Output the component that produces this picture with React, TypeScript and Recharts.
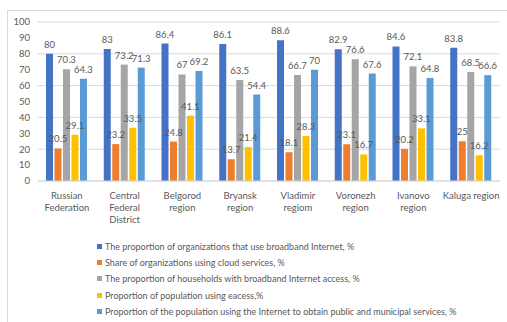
import { BarChart, Bar, XAxis, YAxis, CartesianGrid, LabelList, Legend } from "recharts";

const categories = [
  "Russian\nFederation",
  "Central\nFederal\nDistrict",
  "Belgorod\nregion",
  "Bryansk\nregion",
  "Vladimir\nregiom",
  "Voronezh\nregion",
  "Ivanovo\nregion",
  "Kaluga region",
];

const orgBroadband = [80, 83, 86.4, 86.1, 88.6, 82.9, 84.6, 83.8];
const orgCloud = [20.5, 23.2, 24.8, 13.7, 18.1, 23.1, 20.2, 25];
const householdsBroadband = [70.3, 73.2, 67, 63.5, 66.7, 76.6, 72.1, 68.5];
const populationEaccess = [29.1, 33.5, 41.1, 21.4, 28.3, 16.7, 33.1, 16.2];
const populationPublic = [64.3, 71.3, 69.2, 54.4, 70, 67.6, 64.8, 66.6];

const yTicks = [0, 10, 20, 30, 40, 50, 60, 70, 80, 90, 100];

const series = [
  { key: "orgBroadband", name: "The proportion of organizations that use broadband Internet, %", color: "#4472C4" },
  { key: "orgCloud", name: "Share of organizations using cloud services, %", color: "#ED7D31" },
  { key: "householdsBroadband", name: "The proportion of households with broadband Internet access, %", color: "#A5A5A5" },
  { key: "populationEaccess", name: "Proportion of population using eacess,%", color: "#FFC000" },
  { key: "populationPublic", name: "Proportion of the population using the Internet to obtain public and municipal services, %", color: "#5B9BD5" },
];

const data = categories.map((name, i) => ({
  name,
  orgBroadband: orgBroadband[i],
  orgCloud: orgCloud[i],
  householdsBroadband: householdsBroadband[i],
  populationEaccess: populationEaccess[i],
  populationPublic: populationPublic[i],
}));

const FONT = "Lato, 'Liberation Sans', sans-serif";
const TEXT = "#595959";

function CategoryTick(props: any) {
  const { x, y, payload } = props;
  const lines = String(payload.value).split("\n");
  return (
    <text x={x} y={y} textAnchor="middle" fill={TEXT} fontSize={9.5} fontFamily={FONT}>
      {lines.map((line, i) => (
        <tspan key={i} x={x} dy={i === 0 ? 10 : 12}>
          {line}
        </tspan>
      ))}
    </text>
  );
}

// legend keeps the series order (recharts would sort it otherwise)
function LegendList() {
  return (
    <div style={{ fontFamily: FONT, fontSize: 9, color: TEXT }}>
      {series.map((s) => (
        <div key={s.key} style={{ display: "flex", alignItems: "center", height: 16.3, whiteSpace: "nowrap" }}>
          <span style={{ width: 5, height: 5, background: s.color, marginRight: 3, display: "inline-block" }} />
          {s.name}
        </div>
      ))}
    </div>
  );
}

export default function App() {
  return (
    <div style={{ position: "absolute", left: 0, top: 0, width: 507, height: 322, background: "#fff" }}>
      <div
        style={{
          position: "absolute",
          left: 7,
          top: 10,
          right: 0,
          bottom: 0,
          borderLeft: "1px solid #d9d9d9",
          borderTop: "1px solid #d9d9d9",
        }}
      />
      <BarChart
        width={507}
        height={322}
        data={data}
        margin={{ top: 22, right: 7, left: 0, bottom: 0 }}
        barCategoryGap={8}
        barGap={1.5}
      >
        <CartesianGrid vertical={false} stroke="#d9d9d9" />
        <XAxis
          dataKey="name"
          height={141}
          tickLine={false}
          axisLine={{ stroke: "#d9d9d9" }}
          tick={<CategoryTick />}
          interval={0}
        />
        <YAxis
          width={38}
          domain={[0, 100]}
          ticks={yTicks}
          tickLine={false}
          axisLine={false}
          tick={{ fill: TEXT, fontSize: 9.5, fontFamily: FONT }}
        />
        <Legend
          layout="vertical"
          align="center"
          verticalAlign="middle"
          wrapperStyle={{ left: 97, top: 238, width: 400 }}
          content={<LegendList />}
        />
        {series.map((s) => (
          <Bar key={s.key} dataKey={s.key} name={s.name} fill={s.color} isAnimationActive={false}>
            <LabelList
              dataKey={s.key}
              position="top"
              offset={6}
              fill={TEXT}
              fontSize={9.5}
              fontFamily={FONT}
            />
          </Bar>
        ))}
      </BarChart>
    </div>
  );
}
